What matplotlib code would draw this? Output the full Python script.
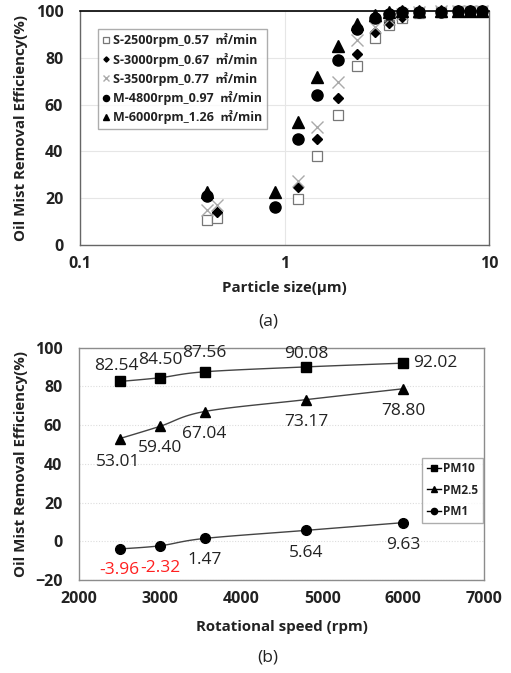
import numpy as np
import matplotlib
matplotlib.use("Agg")
import matplotlib.pyplot as plt
from matplotlib.lines import Line2D

plt.rcParams['font.family'] = ['Open Sans', 'Noto Sans CJK KR', 'DejaVu Sans']

# ---------------- (a) removal efficiency vs particle size ----------------
s2500_size = [0.42, 0.47, 1.16, 1.45, 1.82, 2.26, 2.77, 3.26, 3.77, 4.55, 5.8, 7.08, 8.07, 9.27]
s2500_eff = [10.8, 11.6, 19.5, 37.9, 55.6, 76.5, 88.3, 94.2, 97.0, 99.3, 99.7, 99.8, 99.8, 99.8]

s3000_size = [0.47, 1.16, 1.45, 1.82, 2.26, 2.77, 3.26, 3.77, 4.55, 5.8, 7.08, 8.07, 9.27]
s3000_eff = [14.2, 24.6, 45.2, 62.7, 81.6, 90.9, 95.0, 97.6, 99.6, 99.8, 99.8, 99.8, 99.8]

s3500_size = [0.42, 0.47, 1.16, 1.45, 1.82, 2.26, 2.77, 3.26, 3.77, 4.55, 5.8, 7.08, 8.07, 9.27]
s3500_eff = [15.0, 17.3, 27.4, 50.6, 69.7, 87.4, 93.3, 96.5, 98.8, 99.6, 99.8, 99.8, 99.8, 99.8]

m4800_size = [0.42, 0.9, 1.16, 1.45, 1.82, 2.26, 2.77, 3.26, 3.77, 4.55, 5.8, 7.08, 8.07, 9.27]
m4800_eff = [20.8, 16.1, 45.2, 64.1, 79.1, 92.2, 96.9, 98.9, 99.6, 99.7, 99.7, 99.8, 99.8, 99.8]

m6000_size = [0.42, 0.9, 1.16, 1.45, 1.82, 2.26, 2.77, 3.26, 3.77, 4.55, 5.8, 7.08, 8.07, 9.27]
m6000_eff = [22.8, 22.8, 52.4, 71.9, 85.0, 94.6, 98.2, 99.4, 99.8, 99.9, 100.0, 100.0, 100.0, 100.0]

series_a_labels = ["S-2500rpm_0.57  ㎡/min", "S-3000rpm_0.67  ㎡/min", "S-3500rpm_0.77  ㎡/min",
                   "M-4800rpm_0.97  ㎡/min", "M-6000rpm_1.26  ㎡/min"]

# ---------------- (b) removal efficiency vs rotational speed ----------------
speed_rpm = [2500, 3000, 3550, 4800, 6000]
pm10_eff = [82.54, 84.50, 87.56, 90.08, 92.02]
pm25_eff = [53.01, 59.40, 67.04, 73.17, 78.80]
pm1_eff = [-3.96, -2.32, 1.47, 5.64, 9.63]

W, H = 511, 673
fig = plt.figure(figsize=(W / 100, H / 100), dpi=100)


def frac_box(l, t, r, b):
    return [l / W, 1 - b / H, (r - l) / W, (b - t) / H]


TICK_SIZE = 11.5
LABEL_SIZE = 10.8
frame_col = '#666666'
text_col = '#222222'

# ======================= panel (a) =======================
ax1 = fig.add_axes(frac_box(80, 11, 489, 245))
ax1.set_xscale('log')
ax1.set_xlim(0.1, 10)
ax1.set_ylim(0, 100)
ax1.set_yticks(range(0, 101, 20))
ax1.set_xticks([0.1, 1, 10])
ax1.set_xticklabels(['0.1', '1', '10'])
ax1.xaxis.set_minor_locator(matplotlib.ticker.NullLocator())
ax1.tick_params(axis='both', length=0, labelsize=TICK_SIZE, labelcolor=text_col)
ax1.tick_params(axis='x', pad=8)
ax1.tick_params(axis='y', pad=12)
for lab in ax1.get_xticklabels() + ax1.get_yticklabels():
    lab.set_fontweight('bold')
ax1.grid(True, which='major', color='#e6e6e6', linewidth=0.8)
ax1.set_axisbelow(True)
for side in ['left', 'right', 'bottom']:
    ax1.spines[side].set_color(frame_col)
    ax1.spines[side].set_linewidth(1.0)
ax1.spines['top'].set_color('black')
ax1.spines['top'].set_linewidth(1.2)

common = dict(linestyle='none', clip_on=False)
h1, = ax1.plot(s2500_size, s2500_eff, marker='s', markersize=7.5, markerfacecolor='white',
               markeredgecolor='#777777', markeredgewidth=0.9, zorder=3, **common)
h2, = ax1.plot(s3000_size, s3000_eff, marker='D', markersize=4.8, color='black', zorder=4, **common)
h3, = ax1.plot(s3500_size, s3500_eff, marker='x', markersize=8, color='#aaaaaa',
               markeredgewidth=1.0, zorder=4, **common)
h4, = ax1.plot(m4800_size, m4800_eff, marker='o', markersize=8, color='black', zorder=5, **common)
h5, = ax1.plot(m6000_size, m6000_eff, marker='^', markersize=8, color='black', zorder=5, **common)

leg1 = ax1.legend([h1, h2, h3, h4, h5], series_a_labels, loc='upper left',
                  bbox_to_anchor=((91.7 - 80) / 409, (245 - 22.7) / 234),
                  frameon=True, fancybox=False, edgecolor='#999999', markerscale=0.55,
                  handlelength=0.6, handletextpad=0.25, borderpad=0.35, labelspacing=0.42,
                  prop=dict(size=9, weight='bold'))
leg1.get_frame().set_linewidth(1.0)
for t in leg1.get_texts():
    t.set_color(text_col)

ax1.set_ylabel('Oil Mist Removal Efficiency(%)', fontsize=LABEL_SIZE, fontweight='bold', color=text_col)
ax1.yaxis.set_label_coords(-0.127, 0.5)
ax1.set_xlabel('Particle size(µm)', fontsize=LABEL_SIZE, fontweight='bold', color=text_col)
ax1.xaxis.set_label_coords(0.5, -0.155)

fig.text(268 / W, 1 - 321.5 / H, '(a)', ha='center', va='center', fontsize=12.5, color=text_col)

# ======================= panel (b) =======================
ax2 = fig.add_axes(frac_box(79, 347.7, 484.3, 580))
ax2.set_xlim(2000, 7000)
ax2.set_ylim(-20, 100)
ax2.set_yticks(range(-20, 101, 20))
ax2.set_xticks(range(2000, 7001, 1000))
ax2.tick_params(axis='both', length=0, labelsize=TICK_SIZE, labelcolor=text_col)
ax2.tick_params(axis='x', pad=8)
ax2.tick_params(axis='y', pad=12)
for lab in ax2.get_xticklabels() + ax2.get_yticklabels():
    lab.set_fontweight('bold')
ax2.yaxis.grid(True, color='#dddddd', linewidth=0.8, linestyle=(0, (1, 1.5)))
ax2.set_axisbelow(True)
for side in ax2.spines:
    ax2.spines[side].set_color('#8c8c8c')
    ax2.spines[side].set_linewidth(1.0)


def smooth_curve(ax, xs, ys, n=30):
    """Catmull-Rom style smoothing computed in normalised axes space."""
    x0, x1 = ax.get_xlim()
    y0, y1 = ax.get_ylim()
    aspect = 232.3 / 405.3
    px = (np.asarray(xs, float) - x0) / (x1 - x0)
    py = (np.asarray(ys, float) - y0) / (y1 - y0) * aspect
    pts = np.column_stack([px, py])
    ext = np.vstack([pts[0], pts, pts[-1]])
    out = []
    for i in range(1, len(ext) - 2):
        p0, p1, p2, p3 = ext[i - 1], ext[i], ext[i + 1], ext[i + 2]
        c1 = p1 + (p2 - p0) / 6
        c2 = p2 - (p3 - p1) / 6
        t = np.linspace(0, 1, n)[:, None]
        seg = ((1 - t) ** 3) * p1 + 3 * ((1 - t) ** 2) * t * c1 + 3 * (1 - t) * t ** 2 * c2 + t ** 3 * p2
        out.append(seg if i == 1 else seg[1:])
    out = np.vstack(out)
    return out[:, 0] * (x1 - x0) + x0, out[:, 1] / aspect * (y1 - y0) + y0


for vals, mk in [(pm10_eff, 's'), (pm25_eff, '^'), (pm1_eff, 'o')]:
    cx, cy = smooth_curve(ax2, speed_rpm, vals)
    ax2.plot(cx, cy, color='#444444', linewidth=1.0, zorder=2)
    ax2.plot(speed_rpm, vals, linestyle='none', marker=mk, markersize=7.0, color='black', zorder=3)

# value labels: offsets in pixels (dx, dy)
pm10_off = [(-3, 15), (0, 18), (0, 18.5), (0, 12.5), (32, 0)]
pm25_off = [(-1, -23), (0, -22), (0, -22.5), (0, -22), (0, -22)]
pm1_off = [(0, -21), (0, -22.5), (0, -22), (0, -22.4), (0, -22.4)]
for vals, offs in [(pm10_eff, pm10_off), (pm25_eff, pm25_off), (pm1_eff, pm1_off)]:
    for x, v, (dx, dy) in zip(speed_rpm, vals, offs):
        col = '#ff2020' if v < 0 else text_col
        ax2.annotate(f'{v:.2f}', (x, v), xytext=(dx * 0.72, dy * 0.72), textcoords='offset points',
                     ha='center', va='center', fontsize=12.5, color=col)

leg_handles = [Line2D([], [], color='black', marker='s', markersize=4.5, linewidth=1.0),
               Line2D([], [], color='black', marker='^', markersize=4.5, linewidth=1.0),
               Line2D([], [], color='black', marker='o', markersize=4.5, linewidth=1.0)]
leg2 = ax2.legend(leg_handles, ['PM10', 'PM2.5', 'PM1'], loc='upper left',
                  bbox_to_anchor=((416 - 79) / 405.3, (580 - 451.7) / 232.3),
                  frameon=True, fancybox=False, edgecolor='#999999',
                  handlelength=1.2, handletextpad=0.2, borderpad=0.4, labelspacing=0.7,
                  prop=dict(size=8.5, weight='bold'))
leg2.get_frame().set_linewidth(1.0)
for t in leg2.get_texts():
    t.set_color(text_col)

ax2.set_ylabel('Oil Mist Removal Efficiency(%)', fontsize=LABEL_SIZE, fontweight='bold', color=text_col)
ax2.yaxis.set_label_coords(-0.126, 0.5)
ax2.set_xlabel('Rotational speed (rpm)', fontsize=LABEL_SIZE, fontweight='bold', color=text_col)
ax2.xaxis.set_label_coords(0.5, -0.172)

fig.text(268 / W, 1 - 658 / H, '(b)', ha='center', va='center', fontsize=12.5, color=text_col)

fig.savefig('out.png', dpi=100)
